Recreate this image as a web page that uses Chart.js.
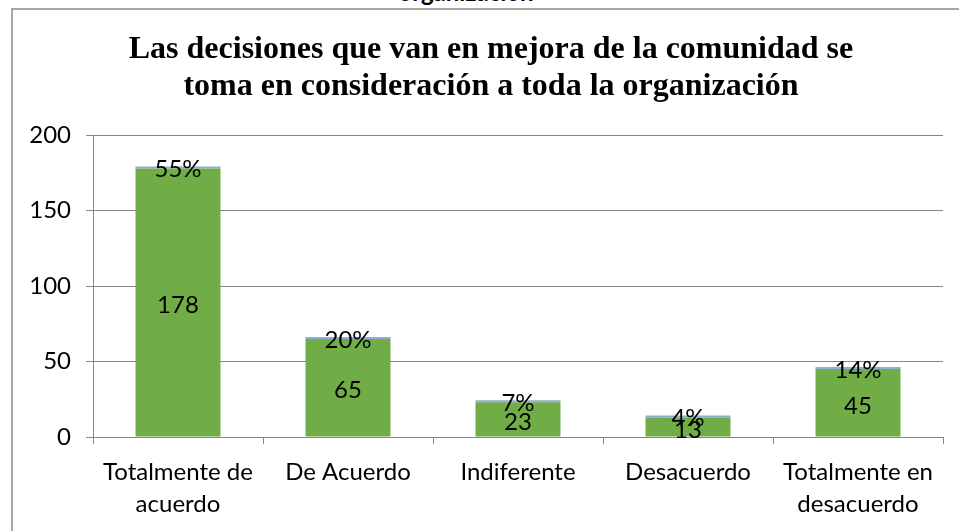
<!DOCTYPE html>
<html>
<head>
<meta charset="utf-8">
<script src="https://cdn.jsdelivr.net/npm/chart.js@4"></script>
<style>
  body { margin: 0; background: #fff; overflow: hidden; }
  #cut { position: absolute; left: 0; width: 932px; top: -23px; text-align: center;
         font: bold 24px Lato, sans-serif; color: #000; }
  #frame { position: absolute; left: 11px; top: 8px; width: 960px; height: 540px;
           border-left: 2px solid #a6a6a6; border-top: 2px solid #a6a6a6; background: #fff; }
  #wrap { position: absolute; left: 0; top: 0; width: 959px; height: 531px; }
</style>
</head>
<body>
<div id="cut">organización</div>
<div id="frame"></div>
<div id="wrap"><canvas id="chart"></canvas></div>
<script>
// data
const categories = [['Totalmente de', 'acuerdo'], 'De Acuerdo', 'Indiferente', 'Desacuerdo', ['Totalmente en', 'desacuerdo']];
const counts = [178, 65, 23, 13, 45];
const percents = [0.55, 0.20, 0.07, 0.04, 0.14];
const percentLabels = ['55%', '20%', '7%', '4%', '14%'];
const yTicks = [0, 50, 100, 150, 200];

const TICK_FONT = { family: 'Lato, sans-serif', size: 24 };

// draws the count in the middle of the green bar and the percent at the top
const barLabels = {
    id: 'barLabels',
    afterDatasetsDraw(chart) {
        const ctx = chart.ctx;
        ctx.save();
        ctx.fillStyle = '#000';
        ctx.font = '24px Lato, sans-serif';
        ctx.textAlign = 'center';
        ctx.textBaseline = 'middle';
        chart.getDatasetMeta(0).data.forEach((bar, i) => {
            ctx.fillText(String(counts[i]), bar.x, (bar.y + bar.base) / 2 + 3);
        });
        chart.getDatasetMeta(1).data.forEach((bar, i) => {
            ctx.fillText(percentLabels[i], bar.x, bar.y + 3);
        });
        ctx.restore();
    }
};

// the left padding is only there to move the title, so let the y labels use that space
const widenY = {
    id: 'widenY',
    afterLayout(chart) {
        chart.scales.y.left = 0;
    }
};

const ctx = document.getElementById('chart').getContext('2d');
const chart = new Chart(ctx, {
    type: 'bar',
    data: {
        labels: categories,
        datasets: [{
            label: 'Cantidad',
            data: counts,
            backgroundColor: '#70ad47',
            categoryPercentage: 1,
            barPercentage: 0.5
        }, {
            label: 'Porcentaje',
            data: percents,
            backgroundColor: '#8eaed6',
            minBarLength: 2,
            categoryPercentage: 1,
            barPercentage: 0.5
        }]
    },
    plugins: [barLabels, widenY],
    options: {
        responsive: true,
        maintainAspectRatio: false,
        animation: false,
        // left padding pushes the title centre to the right like the original
        layout: { padding: { left: 39, right: 16, top: 0, bottom: 0 } },
        plugins: {
            legend: { display: false },
            tooltip: { enabled: false },
            title: {
                display: true,
                text: ['Las decisiones que van en mejora de la comunidad se',
                       'toma en consideración a toda la organización'],
                color: '#000',
                font: { family: '"Liberation Serif", "Times New Roman", serif', size: 32, weight: 'bold', lineHeight: 1.16 },
                padding: { top: 31, bottom: 30 }
            }
        },
        scales: {
            x: {
                stacked: true,
                grid: { display: true, drawOnChartArea: false, drawTicks: true, tickLength: 7, color: '#868686', offset: true },
                border: { display: true, color: '#868686' },
                ticks: { color: '#000', font: { ...TICK_FONT, lineHeight: 1.3 }, padding: 13, maxRotation: 0, autoSkip: false },
                afterFit(scale) { scale.height = 94; }
            },
            y: {
                stacked: true,
                min: 0,
                max: 200,
                afterBuildTicks(scale) { scale.ticks = yTicks.map(v => ({ value: v })); },
                grid: { color: '#868686', tickLength: 7 },
                border: { display: true, color: '#868686' },
                ticks: { color: '#000', font: TICK_FONT, padding: 15 },
                afterFit(scale) { scale.width = 54; }
            }
        }
    }
});
</script>
</body>
</html>
